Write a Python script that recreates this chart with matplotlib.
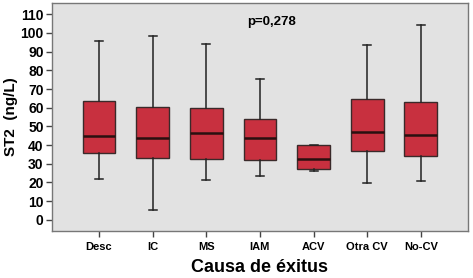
import matplotlib
matplotlib.use("Agg")
import matplotlib.pyplot as plt

plt.rcParams["font.family"] = ["Liberation Sans", "DejaVu Sans"]

# datos
categorias = ["Desc", "IC", "MS", "IAM", "ACV", "Otra CV", "No-CV"]
whisker_bajo = [21.7, 5.0, 21.4, 23.5, 26.3, 19.6, 20.8]
q1 = [35.8, 33.3, 32.6, 32.0, 27.2, 36.7, 34.0]
mediana = [44.8, 44.0, 46.6, 44.0, 32.6, 47.1, 45.4]
q3 = [63.4, 60.5, 60.0, 54.1, 39.9, 64.8, 62.8]
whisker_alto = [95.8, 98.4, 94.1, 75.6, 40.0, 93.8, 104.3]
texto_p = "p=0,278"

stats = []
for i, c in enumerate(categorias):
    stats.append({
        "label": c,
        "whislo": whisker_bajo[i],
        "q1": q1[i],
        "med": mediana[i],
        "q3": q3[i],
        "whishi": whisker_alto[i],
        "fliers": [],
    })

fig = plt.figure(figsize=(4.73, 2.78), dpi=100)
fig.patch.set_facecolor("white")
ax = fig.add_axes([0.110, 0.169, 0.879, 0.820])
ax.set_facecolor("#e2e2e2")

ax.bxp(
    stats,
    positions=range(1, len(categorias) + 1),
    widths=0.61,
    patch_artist=True,
    showfliers=False,
    boxprops=dict(facecolor="#c8303f", edgecolor="#3a2a2a", linewidth=1.0),
    medianprops=dict(color="#2a1010", linewidth=1.8),
    whiskerprops=dict(color="#222222", linewidth=1.1),
    capprops=dict(color="#222222", linewidth=1.1),
    capwidths=0.15,
)

ax.set_xlim(0.125, 7.875)
ax.set_ylim(-6, 116)
ax.set_yticks(range(0, 111, 10))
ax.set_yticklabels([str(v) for v in range(0, 111, 10)], fontsize=10, fontweight="bold")
ax.set_xticks(range(1, len(categorias) + 1))
ax.set_xticklabels(categorias, fontsize=8, fontweight="bold")
ax.tick_params(axis="both", length=4, width=1, color="#444444", pad=2)
ax.tick_params(axis="x", pad=4)

for s in ax.spines.values():
    s.set_color("#777777")
    s.set_linewidth(1.0)

ax.set_ylabel("ST2  (ng/L)", fontsize=11, fontweight="bold", labelpad=2)
ax.set_xlabel("Causa de éxitus", fontsize=13, fontweight="bold", labelpad=5)

ax.text(0.469, 0.917, texto_p, transform=ax.transAxes, fontsize=9.5,
        fontweight="bold", ha="left", va="center")

fig.savefig("out.png", dpi=100)
